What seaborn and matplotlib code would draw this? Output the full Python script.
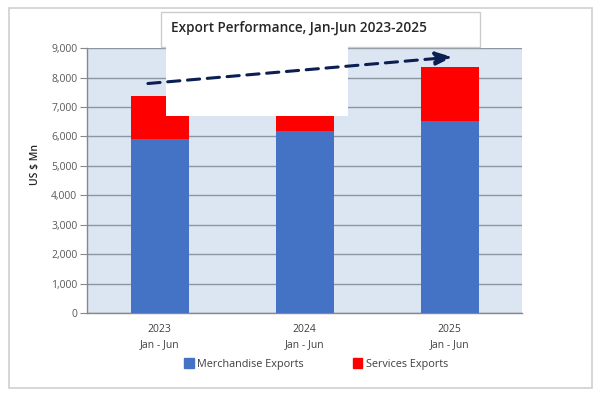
import numpy as np
import pandas as pd
import matplotlib.pyplot as plt
import seaborn as sns
from matplotlib.patches import Rectangle, Patch

# chart data (US $ Mn)
years = ['2023', '2024', '2025']
tick_labels = ['2023\nJan - Jun', '2024\nJan - Jun', '2025\nJan - Jun']
merchandise = [5900, 6170, 6510]
services = [1460, 1550, 1840]   # 2024 is hidden behind the title box
trend_start = 7800
trend_end = 8700

df = pd.DataFrame({'Year': years, 'Merchandise': merchandise, 'Services': services})
df['Total'] = df['Merchandise'] + df['Services']

sns.set_style('white')
plt.rcParams['font.family'] = ['Open Sans', 'DejaVu Sans']

fig = plt.figure(figsize=(6, 3.94), dpi=100)
ax = fig.add_axes([0.145, 0.2056, 0.725, 0.672])
ax.set_facecolor('#dce6f2')

# stacked bars: total in red, merchandise in blue on top
sns.barplot(data=df, x='Year', y='Total', color='#ff0000', width=0.4,
            saturation=1, ax=ax, linewidth=0, zorder=2)
sns.barplot(data=df, x='Year', y='Merchandise', color='#4472c4', width=0.4,
            saturation=1, ax=ax, linewidth=0, zorder=3)

ax.set_ylim(0, 9000)
ax.set_xlim(-0.5, 2.5)
ax.set_yticks(range(0, 9001, 1000))
ax.set_yticklabels([f'{v:,}' for v in range(0, 9001, 1000)], fontsize=7.5, color='#595959')
ax.set_xticks(range(3))
ax.set_xticklabels(tick_labels, fontsize=7.5, color='#404040', linespacing=1.5)
ax.set_xticks([-0.5, 0.5, 1.5, 2.5], minor=True)
ax.tick_params(axis='x', which='major', length=0, pad=8)
ax.tick_params(axis='x', which='minor', length=4, color='#888888', direction='out')
ax.tick_params(axis='y', length=5, color='#888888', direction='out', pad=2, left=True)
ax.yaxis.grid(True, color='#8c96a0', linewidth=1.0, zorder=1)
ax.set_axisbelow(True)
for s in ['top', 'right']:
    ax.spines[s].set_visible(False)
for s in ['left', 'bottom']:
    ax.spines[s].set_color('#888888')
    ax.spines[s].set_linewidth(1.0)
ax.set_xlabel('')
ax.set_ylabel('US $ Mn', fontsize=7.5, color='#262626', fontweight='semibold')
ax.yaxis.set_label_coords(-0.105, 0.56)

# outer frame
fig.patches.append(Rectangle((9 / 600, 1 - 388 / 394), 583 / 600, 380 / 394,
                             transform=fig.transFigure, fill=False,
                             edgecolor='#d0d0d0', linewidth=1.2, zorder=0))

# title box, drawn inside the axes so the arrow can sit above it
ax.add_patch(Rectangle((161 / 600, 1 - 47 / 394), 319 / 600, 35 / 394,
                       transform=fig.transFigure, facecolor='white',
                       edgecolor='#cccccc', linewidth=1.0, zorder=5, clip_on=False))
ax.add_patch(Rectangle((166 / 600, 1 - 116 / 394), 182 / 600, 70 / 394,
                       transform=fig.transFigure, facecolor='white',
                       edgecolor='none', zorder=5, clip_on=False))
ax.text(171 / 600, 1 - 28 / 394, 'Export Performance, Jan-Jun 2023-2025',
        transform=fig.transFigure, fontsize=9.8, color='#262626',
        fontweight='semibold', va='center', zorder=6)

# dashed trend arrow on top of everything
arr = ax.annotate('', xy=(2.02, trend_end), xytext=(-0.08, trend_start),
                  arrowprops=dict(arrowstyle='-|>,head_length=1.0,head_width=0.4',
                                  color='#0b1f52', linewidth=2.2,
                                  linestyle=(0, (4, 2.5)), shrinkA=0, shrinkB=0),
                  annotation_clip=False)
arr.set_zorder(10)

handles = [Patch(color='#4472c4', label='Merchandise Exports'),
           Patch(color='#ff0000', label='Services Exports')]
fig.legend(handles=handles, loc='center', bbox_to_anchor=(316 / 600, 1 - 364 / 394),
           ncol=2, frameon=False, fontsize=7.8, handlelength=0.9, handleheight=1.0,
           handletextpad=0.3, columnspacing=4.5, labelcolor='#404040')

fig.savefig('out.png', dpi=100)
